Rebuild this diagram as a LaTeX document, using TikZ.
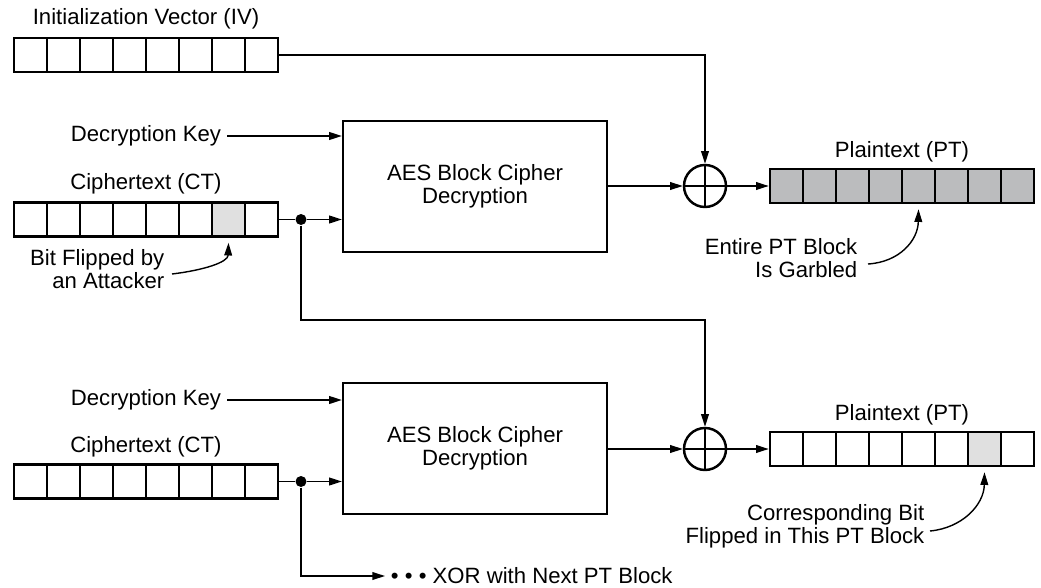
\documentclass[tikz,border=0pt]{standalone}
\usepackage{fontspec}
\setmainfont{Liberation Sans}
\usetikzlibrary{arrows.meta}
\definecolor{garbled}{HTML}{BBBCBE}
\definecolor{flipped}{HTML}{E0E0E0}
\newcommand{\lblfont}{\fontsize{12.6pt}{13pt}\selectfont}
\tikzset{
  cell/.style={draw, line width=1.5pt, minimum width=0.66cm, minimum height=0.68cm, inner sep=0pt},
  aes/.style={draw, line width=1.3pt, minimum width=5.28cm, minimum height=2.62cm, align=center, font=\lblfont},
  xor/.style={circle, draw, line width=1.4pt, minimum size=0.84cm, inner sep=0pt,
    path picture={\draw[line width=1.4pt] (path picture bounding box.north) -- (path picture bounding box.south)
      (path picture bounding box.west) -- (path picture bounding box.east);}},
  junction/.style={circle, fill, inner sep=0pt, minimum size=0.22cm},
  lbl/.style={font=\lblfont, inner sep=0pt},
  keylbl/.style={font=\lblfont, inner sep=3pt, anchor=east},
  note/.style={font=\lblfont, inner sep=0pt, anchor=east, align=right}
}
\begin{document}
\begin{tikzpicture}[x=0.02cm, y=-0.02cm, line width=0.8pt, >={Triangle[length=7.2pt,width=4.4pt]}]
  \useasboundingbox (0,0) rectangle (1041,588);
  % initialization vector
  \node[lbl] (ivlbl) at (146,19) {Initialization Vector (IV)};
  \foreach \i in {1,...,8}
    \node[cell] (iv\i) at ({33*\i-2.5},55) {};
  % first block
  \node[keylbl] (key1) at (227,136) {Decryption Key};
  \node[lbl] (ctlbl1) at (146,184) {Ciphertext (CT)};
  \foreach \i in {1,...,8} {
    \ifnum\i=7 \def\cellfill{flipped}\else\def\cellfill{none}\fi
    \node[cell, fill=\cellfill] (ca\i) at ({33*\i-2.5},219.5) {};
  }
  \node[junction] (d1) at (301,219.5) {};
  \node[aes] (aes1) at (475,186.5) {AES Block Cipher\\Decryption};
  \node[xor] (x1) at (705,186) {};
  \node[lbl] (ptlbl1) at (902,152) {Plaintext (PT)};
  \foreach \i in {1,...,8}
    \node[cell, fill=garbled] (pa\i) at ({33*\i+753.5},186) {};
  \node[note] (flip) at (165,269.5) {Bit Flipped by\\an Attacker};
  \node[note] (garb) at (858,258) {Entire PT Block\\Is Garbled};
  % second block
  \node[keylbl] (key2) at (227,400) {Decryption Key};
  \node[lbl] (ctlbl2) at (146,447) {Ciphertext (CT)};
  \foreach \i in {1,...,8}
    \node[cell] (cb\i) at ({33*\i-2.5},481.5) {};
  \node[junction] (d2) at (301,481.5) {};
  \node[aes] (aes2) at (475,448.5) {AES Block Cipher\\Decryption};
  \node[xor] (x2) at (705,449) {};
  \node[lbl] (ptlbl2) at (902,415) {Plaintext (PT)};
  \foreach \i in {1,...,8} {
    \ifnum\i=7 \def\cellfill{flipped}\else\def\cellfill{none}\fi
    \node[cell, fill=\cellfill] (pb\i) at ({33*\i+753.5},449) {};
  }
  \node[note] (corr) at (925,526) {Corresponding Bit\\Flipped in This PT Block};
  \node[font=\lblfont, anchor=west, inner sep=3pt] (nextblk) at (385,576) {\textbullet\ \textbullet\ \textbullet\ XOR with Next PT Block};
  \coordinate (tap) at (301,320);
  % connectors
  \draw[->] (iv8.east) -| (x1.north);
  \draw[->] (key1.east) -- (key1.east -| aes1.west);
  \draw (ca8.east) -- (d1);
  \draw[->] (d1) -- (d1 -| aes1.west);
  \draw[->] (x1 -| aes1.east) -- (x1.west);
  \draw[->] (x1.east) -- (pa1.west);
  \draw[->] (d1) -- (tap) -| (x2.north);
  \draw[->] (key2.east) -- (key2.east -| aes2.west);
  \draw (cb8.east) -- (d2);
  \draw[->] (d2) -- (d2 -| aes2.west);
  \draw[->] (x2 -| aes2.east) -- (x2.west);
  \draw[->] (x2.east) -- (pb1.west);
  \draw[->] (d2) |- (nextblk.west);
  % notes
  \draw[->] (172,274) .. controls (205,270) and (228,262) .. ([yshift=-0.1cm]ca7.south);
  \draw[->] (868,264) .. controls (900,262) and (918,240) .. ([yshift=-0.1cm]pa5.south);
  \draw[->] (930,531) .. controls (962,528) and (984,505) .. ([yshift=-0.1cm]pb7.south);
\end{tikzpicture}
\end{document}
